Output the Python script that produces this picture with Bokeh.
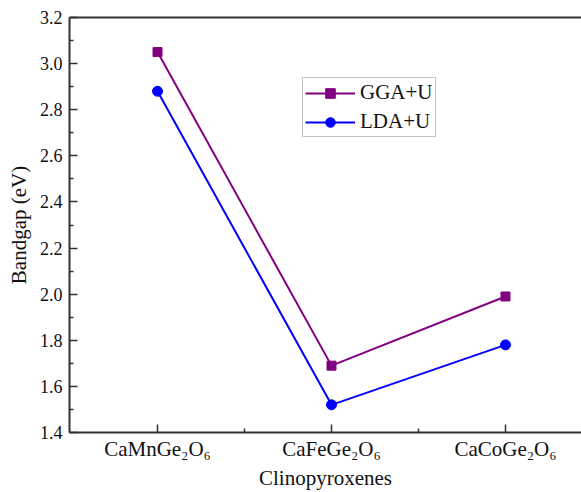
from bokeh.plotting import figure
from bokeh.models import FixedTicker, LinearAxis, Legend, LegendItem, Range1d
from bokeh.embed import file_html
from bokeh.resources import INLINE

categories = ["CaMnGe\u2082O\u2086", "CaFeGe\u2082O\u2086", "CaCoGe\u2082O\u2086"]
gga_u = [3.05, 1.69, 1.99]
lda_u = [2.88, 1.52, 1.78]
y_ticks = [1.4, 1.6, 1.8, 2.0, 2.2, 2.4, 2.6, 2.8, 3.0, 3.2]

xs = list(range(len(categories)))
FONT = "'Liberation Serif', 'Times New Roman', serif"

p = figure(width=581, height=492, output_backend="svg", toolbar_location=None,
           x_range=Range1d(-0.506, 2.437), y_range=Range1d(1.4, 3.2),
           min_border_left=69, min_border_right=0, min_border_top=17, min_border_bottom=56)
p.outline_line_color = None
p.grid.visible = False
p.background_fill_color = "white"
p.border_fill_color = "white"

gr = p.line(xs, gga_u, line_color="#800080", line_width=2)
gm = p.scatter(xs, gga_u, marker="square", size=9, fill_color="#800080", line_color="#800080")
lr = p.line(xs, lda_u, line_color="#0000FF", line_width=2)
lm = p.scatter(xs, lda_u, marker="circle", size=10, fill_color="#0000FF", line_color="#0000FF")

xa = p.xaxis[0]
xa.ticker = FixedTicker(ticks=xs, minor_ticks=[0.5, 1.5])
xa.major_label_overrides = {i: c for i, c in zip(xs, categories)}
xa.axis_label = "Clinopyroxenes"
ya = p.yaxis[0]
ya.ticker = FixedTicker(ticks=y_ticks, minor_ticks=[round(1.5 + 0.2 * i, 1) for i in range(9)])
ya.major_label_overrides = {t: f"{t:.1f}" for t in y_ticks}
ya.axis_label = "Bandgap (eV)"

for ax in (xa, ya):
    ax.axis_line_color = "#333333"
    ax.axis_line_width = 2
    ax.major_tick_line_color = "#333333"
    ax.minor_tick_line_color = "#333333"
    ax.major_tick_line_width = 1.5
    ax.minor_tick_line_width = 1.5
    ax.major_tick_in = 8
    ax.major_tick_out = 0
    ax.minor_tick_in = 4
    ax.minor_tick_out = 0
    ax.major_label_text_font = FONT
    ax.axis_label_text_font = FONT
    ax.axis_label_text_font_style = "normal"
    ax.major_label_text_color = "#111111"
    ax.axis_label_text_color = "#111111"
    ax.axis_label_text_font_size = "21px"
xa.major_label_text_font_size = "21px"
ya.major_label_text_font_size = "18px"
xa.major_label_standoff = 4
ya.major_label_standoff = 7
xa.axis_label_standoff = 2
ya.axis_label_standoff = 6

top = LinearAxis(ticker=FixedTicker(ticks=[]), major_label_text_font_size="0px",
                 axis_line_color="#333333", axis_line_width=2,
                 major_tick_line_color=None, minor_tick_line_color=None)
p.add_layout(top, "above")

legend = Legend(items=[LegendItem(label="GGA+U", renderers=[gr, gm]),
                       LegendItem(label="LDA+U", renderers=[lr, lm])],
                location=(233, 295), label_text_font=FONT,
                label_text_font_size="21px", label_text_color="#111111",
                border_line_color="#888888", border_line_width=1,
                glyph_width=50, glyph_height=24, spacing=4, padding=2,
                margin=0, label_standoff=5)
p.add_layout(legend, "center")

open("out.html", "w").write(file_html(p, INLINE))
